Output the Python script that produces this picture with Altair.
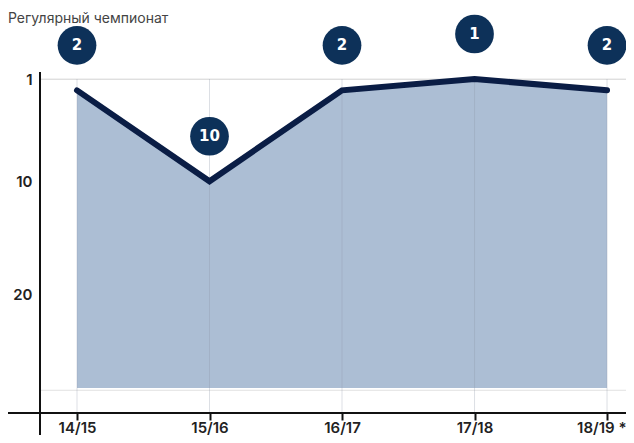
import altair as alt
import pandas as pd

# ---- data ----
seasons = ["14/15", "15/16", "16/17", "17/18", "18/19 *"]
ranks = [2, 10, 2, 1, 2]
rank_labels = ["2", "10", "2", "1", "2"]
area_floor = 28.2          # bottom of the shaded area (rank units)
hgrid_ranks = [1, 28.4]     # horizontal grid lines
y_ticks = [1, 10, 20]
title_text = "Регулярный чемпионат"

W, H = 586, 334
PAD_L, PAD_T, PAD_B = 32, 71, 22

df = pd.DataFrame({"season": seasons, "rank": ranks, "lab": rank_labels,
                   "floor": [area_floor] * len(seasons)})
hg = pd.DataFrame({"r": hgrid_ranks})

NAVY_LINE = "#0a1d45"
NAVY_DOT = "#0d3159"
AREA = "#acbed4"
FONT = "Inter"

xscale = alt.Scale(type="point", padding=0.2113, align=0.661)
xaxis = alt.Axis(title=None, domain=False, grid=False, ticks=True, tickSize=7,
                 tickWidth=2, tickColor="#111111", labelPadding=0,
                 labelFont=FONT, labelFontSize=15, labelFontWeight=600,
                 labelColor="#222222", labelAngle=0,
                 labelFlush=25, labelFlushOffset=19)
yscale = alt.Scale(domain=[1, 30.4], reverse=True, nice=False, zero=False)
yaxis = alt.Axis(title=None, values=y_ticks, domain=False, ticks=False, grid=False,
                 labelPadding=8, labelFont=FONT, labelFontSize=15,
                 labelFontWeight=600, labelColor="#222222")

X = alt.X("season:N", sort=seasons, scale=xscale, axis=xaxis)


def Y(field):
    return alt.Y(f"{field}:Q", scale=yscale, axis=yaxis)


base = alt.Chart(df)

hgrid = alt.Chart(hg).mark_rule(color="#e2e2e2", strokeWidth=1).encode(y=Y("r"))

area = base.mark_area(color=AREA, opacity=1).encode(x=X, y=Y("rank"), y2="floor:Q")

vgrid = base.mark_rule(color="#8a96a6", opacity=0.3, strokeWidth=1).encode(x=X)

line = base.mark_line(color=NAVY_LINE, strokeWidth=6, strokeCap="round",
                      strokeJoin="miter").encode(x=X, y=Y("rank"))

dots = base.mark_circle(size=1500, color=NAVY_DOT, opacity=1, yOffset=-45).encode(
    x=X, y=Y("rank"))

dot_text = base.mark_text(color="white", font="DejaVu Sans", fontSize=15,
                          fontWeight="bold", yOffset=-45, baseline="middle",
                          align="center").encode(x=X, y=Y("rank"), text="lab:N")

y_axis_line = alt.Chart(df).mark_rule(color="#111111", strokeWidth=2).encode(
    x=alt.value(0), y=alt.value(-7), y2=alt.value(H + 40))

x_axis_line = alt.Chart(df).mark_rule(color="#111111", strokeWidth=2).encode(
    y=alt.value(H), x=alt.value(-32), x2=alt.value(W))

title = alt.Chart(pd.DataFrame({"t": [title_text]})).mark_text(
    align="left", baseline="top", font=FONT, fontSize=14, fontWeight=400,
    color="#444444").encode(x=alt.value(-PAD_L), y=alt.value(-PAD_T + 4), text="t:N")

chart = alt.layer(
    hgrid, area, vgrid, line, dots, dot_text, y_axis_line, x_axis_line, title
).properties(
    width=W, height=H,
    autosize=alt.AutoSizeParams(type="none"),
    padding={"left": PAD_L, "top": PAD_T, "right": 0, "bottom": PAD_B},
).configure_view(stroke=None).configure(background="white")

chart.save("out.html", embed_options={"renderer": "svg", "actions": False})
